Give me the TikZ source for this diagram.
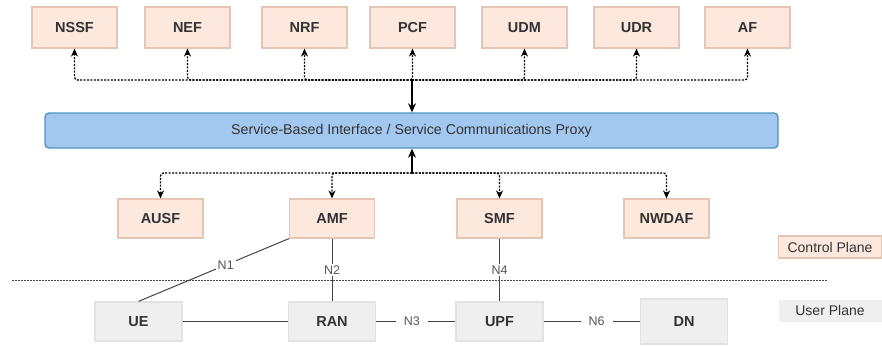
\documentclass[tikz,border=0pt]{standalone}
\usepackage{fontspec}
\setmainfont{Liberation Sans}
\usetikzlibrary{arrows.meta}
\definecolor{nffill}{HTML}{FCE8DC}
\definecolor{nfdraw}{HTML}{E5C6B4}
\definecolor{upfill}{HTML}{EFEFEF}
\definecolor{updraw}{HTML}{E2E2E2}
\definecolor{busfill}{HTML}{A3C8EF}
\definecolor{busdraw}{HTML}{4F93BC}
\definecolor{txt}{HTML}{333333}
\definecolor{lbl}{HTML}{555555}
\definecolor{wire}{HTML}{444444}
\begin{document}
\begin{tikzpicture}[x=1pt,y=-1pt,
  nf/.style={draw=nfdraw,line width=1.2pt,fill=nffill,minimum width=85pt,minimum height=41pt,
    inner sep=0pt,font=\fontsize{14.5}{16}\selectfont\bfseries,text=txt},
  nfl/.style={nf,minimum height=39pt},
  upbox/.style={draw=updraw,line width=1.2pt,fill=upfill,minimum width=87pt,minimum height=39pt,
    inner sep=0pt,font=\fontsize{14.5}{16}\selectfont\bfseries,text=txt},
  sbi/.style={draw=busdraw,line width=1.4pt,fill=busfill,rounded corners=4pt,minimum width=733pt,
    minimum height=35pt,inner sep=0pt,font=\fontsize{14.2}{16}\selectfont,text=txt},
  svc/.style={dash pattern=on 2pt off 1.4pt,line width=1.3pt,rounded corners=3pt,-{Stealth[length=8pt,width=7pt]}},
  trunk/.style={line width=1.7pt,-{Stealth[length=9pt,width=8pt]}},
  iface/.style={draw=wire,line width=1pt},
  ilabel/.style={fill=white,inner sep=2pt,font=\fontsize{12.5}{14}\selectfont,text=lbl},
  legend/.style={minimum width=103pt,minimum height=22pt,inner sep=0pt,font=\fontsize{14}{16}\selectfont,text=txt}
]
\useasboundingbox (0,0) rectangle (882,345);

% Network functions attached above the proxy
\node[nf] (nssf) at (74.5,27.5) {NSSF};
\node[nf] (nef)  at (187.5,27.5) {NEF};
\node[nf] (nrf)  at (304.5,27.5) {NRF};
\node[nf] (pcf)  at (412.5,27.5) {PCF};
\node[nf] (udm)  at (524.5,27.5) {UDM};
\node[nf] (udr)  at (636.5,27.5) {UDR};
\node[nf] (af)   at (747.5,27.5) {AF};

% Service-based interface bar
\node[sbi] (bus) at (411.5,130.5) {Service-Based Interface / Service Communications Proxy};

% Network functions attached below the proxy
\node[nfl] (ausf)  at (160.5,218.5) {AUSF};
\node[nfl] (amf)   at (332,218.5) {AMF};
\node[nfl] (smf)   at (499.5,218.5) {SMF};
\node[nfl] (nwdaf) at (666.5,218.5) {NWDAF};

% User plane
\node[upbox] (ue)  at (138.5,321.5) {UE};
\node[upbox] (ran) at (332,321.5) {RAN};
\node[upbox] (upf) at (499.5,321.5) {UPF};
\node[upbox,minimum height=45pt] (dn) at (684,321.5) {DN};

% Legend
\node[legend,draw=nfdraw,line width=1.2pt,fill=nffill] (cplane) at (830,247) {Control Plane};
\node[legend,fill=upfill] (uplane) at (830,310.5) {User Plane};

% Upper service bus
\coordinate (jtop) at (412,80);
\coordinate (jbot) at (412,173);
\foreach \n in {nssf,nef,nrf,pcf,udm,udr,af}
  \draw[svc] (jtop) -| (\n.south);
\draw[trunk] (jtop) -- (bus.north -| jtop);

% Lower service bus
\foreach \n in {ausf,amf,smf,nwdaf}
  \draw[svc] (jbot) -| (\n.north);
\draw[trunk] (jbot) -- (bus.south -| jbot);

% Reference points
\draw[iface] (amf.south west) -- node[ilabel,pos=0.42] {N1} (ue.north);
\draw[iface] (amf.south) -- node[ilabel,pos=0.5] {N2} (ran.north);
\draw[iface] (smf.south) -- node[ilabel,pos=0.5] {N4} (upf.north);
\draw[iface] (ue.east) -- (ran.west);
\draw[iface] (ran.east) -- node[ilabel,inner xsep=8pt,pos=0.45] {N3} (upf.west);
\draw[iface] (upf.east) -- node[ilabel,inner xsep=8pt,pos=0.55] {N6} (dn.west);

% Boundary between control and user plane
\coordinate (sepL) at (12,280);
\coordinate (sepR) at (828,280);
\draw[wire,dash pattern=on 1.5pt off 1.5pt,line width=1pt] (sepL) -- (sepR);
\end{tikzpicture}
\end{document}
